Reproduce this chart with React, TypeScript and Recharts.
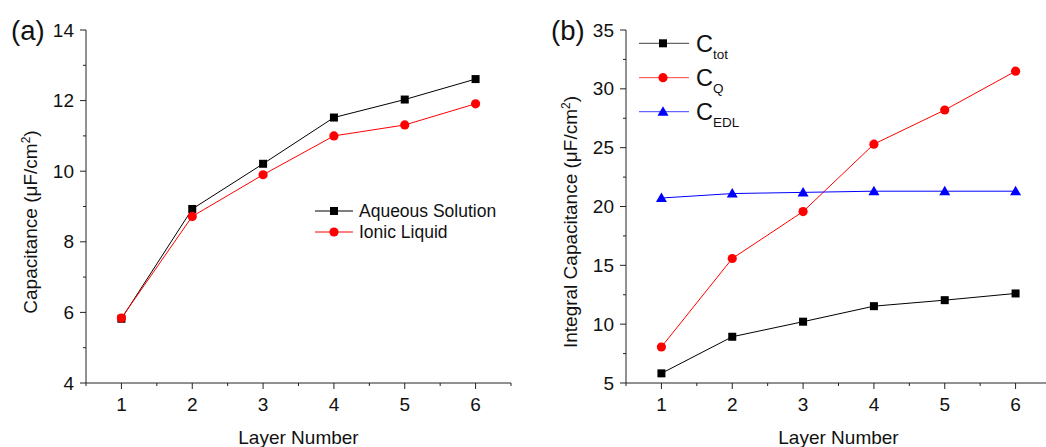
import React from 'react';
import { LineChart, Line, XAxis, YAxis, Legend, Label } from 'recharts';

const FONT = '"Liberation Sans", Arial, Helvetica, sans-serif';
const AXIS = '#222';

const layers = [1, 2, 3, 4, 5, 6];
const aqueous = [5.82, 8.93, 10.21, 11.52, 12.03, 12.61];
const ionic = [5.84, 8.72, 9.9, 11.0, 11.31, 11.91];
const cTot = [5.82, 8.93, 10.21, 11.53, 12.04, 12.61];
const cQ = [8.06, 15.58, 19.57, 25.3, 28.2, 31.5];
const cEDL = [20.72, 21.1, 21.2, 21.3, 21.3, 21.3];

const xTicks = [0.5, 1, 1.5, 2, 2.5, 3, 3.5, 4, 4.5, 5, 5.5, 6, 6.5];
const yTicksA = [4, 5, 6, 7, 8, 9, 10, 11, 12, 13, 14];
const yTicksB = [5, 7.5, 10, 12.5, 15, 17.5, 20, 22.5, 25, 27.5, 30, 32.5, 35];

const dataA = layers.map((l, i) => ({ layer: l, aqueous: aqueous[i], ionic: ionic[i] }));
const dataB = layers.map((l, i) => ({ layer: l, cTot: cTot[i], cQ: cQ[i], cEDL: cEDL[i] }));

const XTick = (props: any) => {
  const { x, y, payload } = props;
  const major = Number.isInteger(payload.value);
  return (
    <g>
      <line x1={x} x2={x} y1={y} y2={y + (major ? 6 : 3)} stroke={AXIS} strokeWidth={1} />
      {major && (
        <text x={x} y={y + 21} textAnchor="middle" dominantBaseline="central" fontSize={19} fontFamily={FONT} fill="#111">
          {payload.value}
        </text>
      )}
    </g>
  );
};

const makeYTick = (step: number) => (props: any) => {
  const { x, y, payload } = props;
  const v = payload.value;
  const major = Math.abs(v / step - Math.round(v / step)) < 1e-6;
  return (
    <g>
      <line x1={x} x2={x - (major ? 6 : 3)} y1={y} y2={y} stroke={AXIS} strokeWidth={1} />
      {major && (
        <text x={x - 12} y={y} textAnchor="end" dominantBaseline="central" fontSize={19} fontFamily={FONT} fill="#111">
          {v}
        </text>
      )}
    </g>
  );
};
const YTickA = makeYTick(2);
const YTickB = makeYTick(5);

const square = (color: string) => (p: any) =>
  p.cx == null ? <g key={`s-${p.index}`} /> : (
    <rect key={`s-${p.index}`} x={p.cx - 4} y={p.cy - 4} width={8} height={8} fill={color} />
  );
const circle = (color: string) => (p: any) =>
  p.cx == null ? <g key={`c-${p.index}`} /> : (
    <circle key={`c-${p.index}`} cx={p.cx} cy={p.cy} r={4.6} fill={color} />
  );
const triangle = (color: string) => (p: any) =>
  p.cx == null ? <g key={`t-${p.index}`} /> : (
    <polygon
      key={`t-${p.index}`}
      points={`${p.cx},${p.cy - 5.5} ${p.cx - 5.5},${p.cy + 4} ${p.cx + 5.5},${p.cy + 4}`}
      fill={color}
    />
  );

const XTitle = (props: any) => {
  const vb = props.viewBox;
  return (
    <text x={vb.x + vb.width / 2} y={vb.y + 54} textAnchor="middle" dominantBaseline="central" fontSize={19} fontFamily={FONT} fill="#111">
      Layer Number
    </text>
  );
};

const makeYTitle = (prefix: string, bx: number) => (props: any) => {
  const cy = 222;
  return (
    <text x={bx} y={cy} transform={`rotate(-90, ${bx}, ${cy})`} textAnchor="middle" fontSize={19} fontFamily={FONT} fill="#111">
      <tspan>{prefix} (μF/cm</tspan>
      <tspan dy={-7} fontSize={12}>2</tspan>
      <tspan dy={7}>)</tspan>
    </text>
  );
};
const YTitleA = makeYTitle('Capacitance', 37);
const YTitleB = makeYTitle('Integral Capacitance', 51);

const LegendA = () => (
  <svg width={210} height={55} style={{ display: 'block' }}>
    <line x1={15} x2={53} y1={21} y2={21} stroke="#000" strokeWidth={1} />
    <rect x={30} y={17} width={8} height={8} fill="#000" />
    <text x={59} y={21} dominantBaseline="central" fontSize={17.5} fontFamily={FONT} fill="#111">Aqueous Solution</text>
    <line x1={15} x2={53} y1={42} y2={42} stroke="#ff0000" strokeWidth={1} />
    <circle cx={34} cy={42} r={4.6} fill="#ff0000" />
    <text x={59} y={42} dominantBaseline="central" fontSize={17.5} fontFamily={FONT} fill="#111">Ionic Liquid</text>
  </svg>
);

const LegendRowB = ({ cy, color, sub, marker }: any) => (
  <g>
    <line x1={13} x2={63} y1={cy} y2={cy} stroke={color} strokeWidth={1} strokeOpacity={0.75} />
    {marker === 'square' && <rect x={33} y={cy - 4} width={8} height={8} fill={color} />}
    {marker === 'circle' && <circle cx={37} cy={cy} r={4.6} fill={color} />}
    {marker === 'triangle' && (
      <polygon points={`37,${cy - 5.5} 31.5,${cy + 4} 42.5,${cy + 4}`} fill={color} />
    )}
    <text x={70} y={cy + 8.5} fontSize={23.5} fontFamily={FONT} fill="#111">
      <tspan>C</tspan>
      <tspan dy={7} fontSize={13.5}>{sub}</tspan>
    </text>
  </g>
);

const LegendB = () => (
  <svg width={160} height={130} style={{ display: 'block' }}>
    <LegendRowB cy={28.3} color="#000" sub="tot" marker="square" />
    <LegendRowB cy={62.7} color="#ff0000" sub="Q" marker="circle" />
    <LegendRowB cy={96.7} color="#0000ff" sub="EDL" marker="triangle" />
  </svg>
);

export default function App() {
  return (
    <div style={{ position: 'fixed', left: 0, top: 0, width: 1046, height: 447, overflow: 'hidden', background: '#fff' }}>
      <div style={{ position: 'absolute', left: 0, top: 0 }}>
        <LineChart width={520} height={447} data={dataA} margin={{ top: 30, right: 9, bottom: 0, left: 0 }}>
          <XAxis
            dataKey="layer"
            type="number"
            domain={[0.5, 6.5]}
            ticks={xTicks}
            interval={0}
            tickSize={0}
            tickMargin={0}
            tickLine={false}
            tick={XTick}
            axisLine={{ stroke: AXIS }}
            height={64}
          >
            <Label content={XTitle} />
          </XAxis>
          <YAxis
            type="number"
            domain={[4, 14]}
            ticks={yTicksA}
            interval={0}
            tickSize={0}
            tickMargin={0}
            tickLine={false}
            tick={YTickA}
            axisLine={{ stroke: AXIS }}
            width={86}
          >
            <Label content={YTitleA} />
          </YAxis>
          <Legend
            layout="vertical"
            align="center"
            verticalAlign="middle"
            content={LegendA}
            wrapperStyle={{ left: 300, top: 190, width: 'auto', height: 'auto' }}
          />
          <Line dataKey="aqueous" name="Aqueous Solution" stroke="#000" strokeWidth={1} dot={square('#000')} isAnimationActive={false} />
          <Line dataKey="ionic" name="Ionic Liquid" stroke="#ff0000" strokeWidth={1} dot={circle('#ff0000')} isAnimationActive={false} />
        </LineChart>
      </div>
      <div style={{ position: 'absolute', left: 526, top: 0 }}>
        <LineChart width={530} height={447} data={dataB} margin={{ top: 30, right: 5, bottom: 0, left: 0 }}>
          <XAxis
            dataKey="layer"
            type="number"
            domain={[0.5, 6.5]}
            ticks={xTicks}
            interval={0}
            tickSize={0}
            tickMargin={0}
            tickLine={false}
            tick={XTick}
            axisLine={{ stroke: AXIS }}
            height={64}
          >
            <Label content={XTitle} />
          </XAxis>
          <YAxis
            type="number"
            domain={[5, 35]}
            ticks={yTicksB}
            interval={0}
            tickSize={0}
            tickMargin={0}
            tickLine={false}
            tick={YTickB}
            axisLine={{ stroke: AXIS }}
            width={100}
          >
            <Label content={YTitleB} />
          </YAxis>
          <Legend
            layout="vertical"
            align="center"
            verticalAlign="middle"
            content={LegendB}
            wrapperStyle={{ left: 100, top: 15, width: 'auto', height: 'auto' }}
          />
          <Line dataKey="cTot" name="Ctot" stroke="#000" strokeWidth={1} dot={square('#000')} isAnimationActive={false} />
          <Line dataKey="cQ" name="CQ" stroke="#ff0000" strokeWidth={1} dot={circle('#ff0000')} isAnimationActive={false} />
          <Line dataKey="cEDL" name="CEDL" stroke="#0000ff" strokeWidth={1} dot={triangle('#0000ff')} isAnimationActive={false} />
        </LineChart>
      </div>
      <svg width={1046} height={447} style={{ position: 'absolute', left: 0, top: 0, pointerEvents: 'none' }}>
        <text x={11} y={40} fontSize={27.5} fontFamily={FONT} fill="#111">(a)</text>
        <text x={551} y={40} fontSize={27.5} fontFamily={FONT} fill="#111">(b)</text>
      </svg>
    </div>
  );
}
